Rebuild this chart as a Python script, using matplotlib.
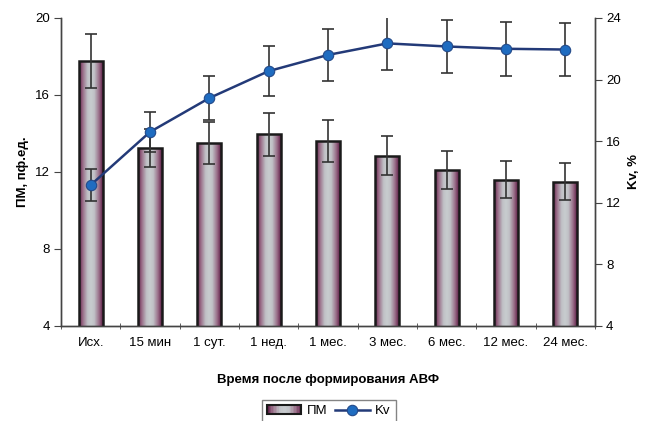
import numpy as np
import matplotlib
matplotlib.use('Agg')
import matplotlib.pyplot as plt
from matplotlib.colors import LinearSegmentedColormap
from matplotlib.patches import Rectangle, Patch
from matplotlib.legend_handler import HandlerBase

plt.rcParams['font.family'] = ['Liberation Sans', 'DejaVu Sans']

categories = ['Исх.', '15 мин', '1 сут.', '1 нед.', '1 мес.', '3 мес.', '6 мес.', '12 мес.', '24 мес.']
pm = [17.75, 13.25, 13.5, 13.95, 13.6, 12.85, 12.1, 11.6, 11.5]
pm_err = [1.4, 1.0, 1.1, 1.1, 1.1, 1.0, 1.0, 0.95, 0.95]
kv = [13.15, 16.6, 18.8, 20.55, 21.6, 22.35, 22.15, 22.0, 21.95]
kv_err = [1.05, 1.3, 1.45, 1.6, 1.7, 1.75, 1.75, 1.75, 1.72]

cmap = LinearSegmentedColormap.from_list('bar', [
    (0.0, '#5e1c46'), (0.16, '#9a6e88'), (0.36, '#c0c1c6'),
    (0.5, '#c8cccf'), (0.64, '#c0c1c6'), (0.84, '#9a6e88'), (1.0, '#5e1c46')])

fig = plt.figure(figsize=(6.51, 4.21), dpi=100)
ax1 = fig.add_axes([0.0937, 0.2257, 0.8203, 0.7316])
ax2 = ax1.twinx()

x = np.arange(len(categories))
bars = ax1.bar(x, pm, width=0.4, color='none', edgecolor='#1a1a1a', linewidth=1.8, zorder=3)
grad = np.linspace(0, 1, 256).reshape(1, -1)
for b in bars:
    im = ax1.imshow(grad, cmap=cmap, aspect='auto', zorder=2,
                    extent=[b.get_x(), b.get_x() + b.get_width(), 4, b.get_height()])
    im.set_clip_path(b)
ax1.errorbar(x, pm, yerr=pm_err, fmt='none', ecolor='#333333', elinewidth=1.2,
             capsize=4, capthick=1.2, zorder=4)

ax2.errorbar(x, kv, yerr=kv_err, fmt='none', ecolor='#333333', elinewidth=1.2,
             capsize=4, capthick=1.2, zorder=2)
line, = ax2.plot(x, kv, color='#233a78', linewidth=1.8, marker='o', markersize=7.5,
                 markerfacecolor='#1f6cc0', markeredgecolor='#234a8a', markeredgewidth=0.8,
                 zorder=3, label='Kv')

ax1.set_xlim(-0.5, len(categories) - 0.5)
ax1.set_ylim(4, 20)
ax2.set_ylim(4, 24)
ax1.set_yticks([4, 8, 12, 16, 20])
ax2.set_yticks([4, 8, 12, 16, 20, 24])
ax1.set_xticks(x)
ax1.set_xticklabels(categories)
ax1.set_xticks(np.arange(-0.5, len(categories)), minor=True)
ax1.tick_params(axis='x', which='major', length=0, pad=8, labelsize=9.5)
ax1.tick_params(axis='x', which='minor', length=5, direction='inout', color='#444444')
ax1.tick_params(axis='y', length=5, color='#444444', labelsize=9.5, pad=3)
ax2.tick_params(axis='y', length=5, color='#444444', labelsize=9.5, pad=3)

for ax in (ax1, ax2):
    ax.spines['top'].set_visible(False)
    for s in ('left', 'right', 'bottom'):
        ax.spines[s].set_color('#444444')
        ax.spines[s].set_linewidth(1.0)

ax1.set_ylabel('ПМ, пф.ед.', fontsize=9.5, fontweight='bold', labelpad=4)
ax2.set_ylabel('Kv, %', fontsize=9.5, fontweight='bold', labelpad=5)
ax1.set_xlabel('Время после формирования АВФ', fontsize=9.5, fontweight='bold', labelpad=18)


class GradHandler(HandlerBase):
    def create_artists(self, legend, orig_handle, xdescent, ydescent, width, height, fontsize, trans):
        arts = []
        n = 24
        for i in range(n):
            arts.append(Rectangle((-xdescent + i * width / n, -ydescent), width / n, height,
                                  facecolor=cmap((i + 0.5) / n), edgecolor='none', transform=trans))
        arts.append(Rectangle((-xdescent, -ydescent), width, height, fill=False,
                              edgecolor='#1a1a1a', linewidth=1.5, transform=trans))
        return arts


proxy = Patch(label='ПМ')
fig.legend([proxy, line], ['ПМ', 'Kv'], handler_map={Patch: GradHandler()},
           loc='upper center', bbox_to_anchor=(0.505, 0.066), ncol=2, frameon=True,
           fancybox=False, edgecolor='#666666', fontsize=9.5, handlelength=2.6,
           columnspacing=0.6, handletextpad=0.4, borderpad=0.4)

fig.savefig('out.png', dpi=100)
